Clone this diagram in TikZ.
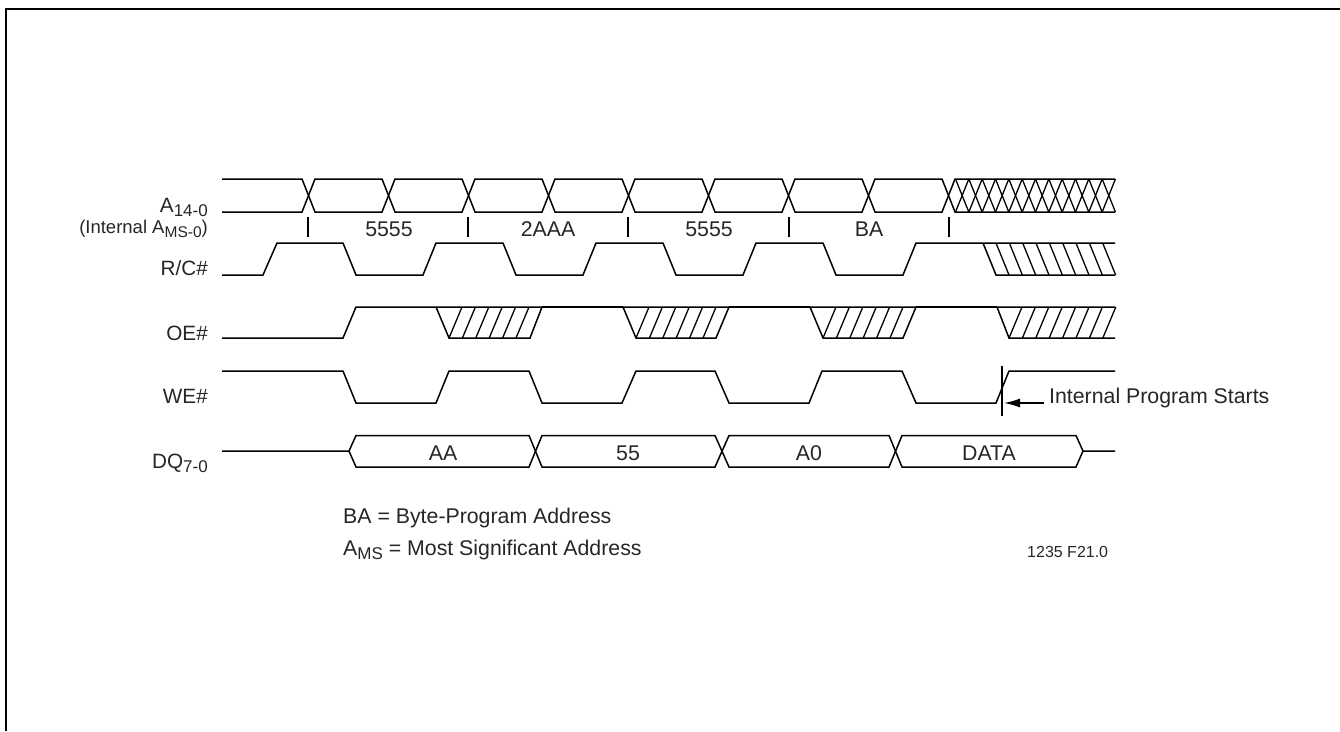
\documentclass[tikz,border=0pt]{standalone}
\usepackage{fontspec}
\setmainfont{Liberation Sans}
\usetikzlibrary{arrows.meta}
\newcommand{\lowtxt}[1]{\raisebox{-4.5pt}{\fontsize{17}{18}\selectfont #1}}
\newcommand{\lowsmall}[1]{\raisebox{-4pt}{\fontsize{15.5}{16}\selectfont #1}}
\tikzset{
  wave/.style={line width=1.5pt, line join=miter},
  hatch/.style={line width=1.3pt},
  tick/.style={line width=1.8pt},
  lbl/.style={font=\fontsize{21.3}{23}\selectfont, inner sep=0pt, text=black!85, anchor=base},
  sig/.style={lbl, font=\fontsize{20.7}{22}\selectfont, anchor=base east},
  note/.style={lbl, anchor=base west}
}
\begin{document}
\begin{tikzpicture}[x=1pt,y=-1pt]
\useasboundingbox (0,0) rectangle (1340,731);
\draw[line width=2.4pt] (6,731) -- (6,9) -- (1340,9);
% signal names
\node[sig] (addr) at (208,212) {A\lowtxt{14-0}};
\node[sig, font=\fontsize{18.5}{20}\selectfont] (intaddr) at (208,233) {(Internal A\lowsmall{MS-0})};
\node[sig] (rc) at (208,275) {R/C\#};
\node[sig] (oe) at (208,340) {OE\#};
\node[sig] (we) at (208,403) {WE\#};
\node[sig] (dq) at (208,468) {DQ\lowtxt{7-0}};
% address bus
\draw[wave] (222,179) -- (302,179) -- (315,212) -- (382,212) -- (395,179) -- (462,179) -- (475,212) -- (542,212) -- (555,179) -- (622,179) -- (635,212) -- (702,212) -- (715,179) -- (782,179) -- (795,212) -- (862,212) -- (875,179) -- (942,179) -- (955,212) -- (1115,212);
\draw[wave] (222,212) -- (302,212) -- (315,179) -- (382,179) -- (395,212) -- (462,212) -- (475,179) -- (542,179) -- (555,212) -- (622,212) -- (635,179) -- (702,179) -- (715,212) -- (782,212) -- (795,179) -- (862,179) -- (875,212) -- (942,212) -- (955,179) -- (1115,179);
\foreach \k in {0,...,11} {
  \draw[hatch] (955.5+\k*13.33,179) -- (968.8+\k*13.33,212);
  \draw[hatch] (955.5+\k*13.33,212) -- (968.8+\k*13.33,179);
}
\foreach \x in {308,468,628,789,949} \draw[tick] (\x,217) -- (\x,237);
\node[lbl] (a1) at (389,236) {5555};
\node[lbl] (a2) at (548,236) {2AAA};
\node[lbl] (a3) at (709,236) {5555};
\node[lbl] (a4) at (869,236) {BA};
% R/C#
\draw[wave] (222,275) -- (263,275) -- (277,243) -- (343,243) -- (356,275) -- (423,275) -- (436,243) -- (503,243) -- (516,275) -- (583,275) -- (596,243) -- (663,243) -- (676,275) -- (743,275) -- (756,243) -- (823,243) -- (836,275) -- (903,275) -- (916,243) -- (1115,243);
\draw[wave] (983,243) -- (996,275) -- (1115,275);
\foreach \k in {0,...,8} \draw[hatch] (996+\k*13.33,243) -- (1009+\k*13.33,275);
% OE#
\draw[wave] (222,338) -- (343,338) -- (356,307) -- (1115,307);
\draw[wave] (436,307) -- (449,338) -- (530,338) -- (542,307);
\draw[wave] (623,307) -- (636,338) -- (716,338) -- (729,307);
\draw[wave] (810,307) -- (823,338) -- (903,338) -- (916,307);
\draw[wave] (997,307) -- (1009,338) -- (1115,338);
\foreach \s/\n in {449/5,636/5,823/5,1009/7}
  \foreach \k in {0,...,\n} \draw[hatch] (\s+\k*13.4,338) -- (\s+\k*13.4+13,307);
\foreach \s/\e in {542/623,729/810,916/997} \draw[line width=2.1pt] (\s,307) -- (\e,307);
% WE#
\draw[wave] (222,371) -- (343,371) -- (356,403) -- (436,403) -- (449,371) -- (529,371) -- (542,403) -- (622,403) -- (636,371) -- (715,371) -- (729,403) -- (809,403) -- (822,371) -- (902,371) -- (916,403) -- (996,403) -- (1009,371) -- (1115,371);
\draw[tick] (1002,366) -- (1002,416);
\node[note] (start) at (1049,403) {Internal Program Starts};
\coordinate (startline) at (1004,403);
\coordinate (startarrow) at (1044,403);
\draw[-{Latex[length=16pt,width=9pt]}, line width=1.5pt] (startarrow) -- (startline);
% DQ
\draw[wave] (222,451) -- (349,451) -- (356,435.5) -- (529,435.5) -- (542,467) -- (715,467) -- (729,435.5) -- (889,435.5) -- (902,467) -- (1076,467) -- (1083,451) -- (1115,451);
\draw[wave] (349,451) -- (356,467) -- (529,467) -- (542,435.5) -- (715,435.5) -- (729,467) -- (889,467) -- (902,435.5) -- (1076,435.5) -- (1083,451);
\node[lbl] (d1) at (443,460) {AA};
\node[lbl] (d2) at (628,460) {55};
\node[lbl] (d3) at (809,460) {A0};
\node[lbl] (d4) at (989,460) {DATA};
% notes
\node[note] (note1) at (343,523) {BA = Byte-Program Address};
\node[note] (note2) at (343,555) {A\lowtxt{MS} = Most Significant Address};
\node[note, font=\fontsize{16}{17}\selectfont] (figno) at (1027,557) {1235 F21.0};
\end{tikzpicture}
\end{document}
